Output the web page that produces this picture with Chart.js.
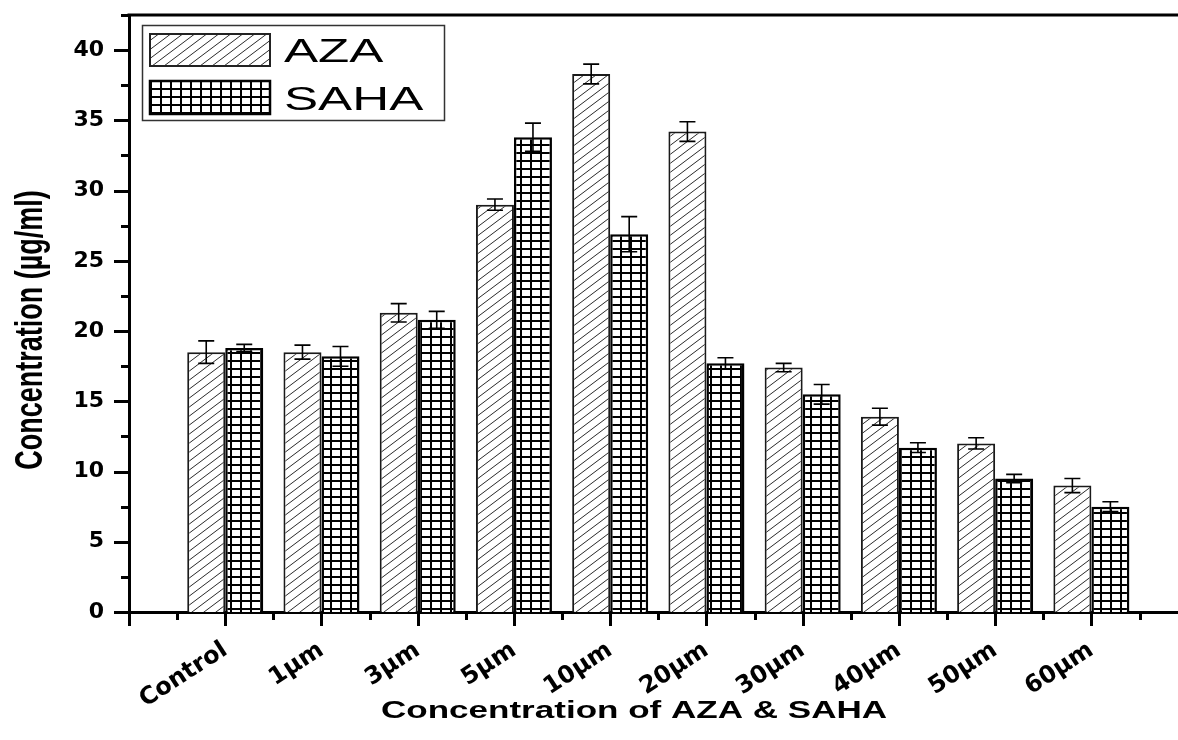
<!DOCTYPE html>
<html>
<head>
<meta charset="utf-8">
<script src="https://cdn.jsdelivr.net/npm/chart.js@4.4.0/dist/chart.umd.min.js"></script>
<style>
  html, body { margin: 0; padding: 0; background: #fff; }
  #wrap { width: 1178px; height: 740px; }
</style>
</head>
<body>
<div id="wrap"><canvas id="concChart"></canvas></div>
<script>
// values (µg/ml)
const categories = ['Control', '1µm', '3µm', '5µm', '10µm', '20µm', '30µm', '40µm', '50µm', '60µm'];
const azaValues  = [18.5, 18.5, 21.3, 29.0, 38.3, 34.2, 17.4, 13.9, 12.0, 9.0];
const azaErrors  = [0.8, 0.5, 0.65, 0.4, 0.7, 0.7, 0.3, 0.6, 0.4, 0.5];
const sahaValues = [18.8, 18.2, 20.8, 33.8, 26.9, 17.7, 15.5, 11.7, 9.5, 7.5];
const sahaErrors = [0.25, 0.7, 0.6, 1.0, 1.25, 0.4, 0.7, 0.35, 0.3, 0.35];
const yMajorStep = 5;
const yMinorStep = 2.5;

// diagonal hatch for AZA
function hatchPattern() {
    const c = document.createElement('canvas');
    const w = 12, h = 9;
    c.width = w; c.height = h;
    const g = c.getContext('2d');
    g.fillStyle = '#fff';
    g.fillRect(0, 0, w, h);
    g.strokeStyle = '#2a2a2a';
    g.lineWidth = 1;
    g.beginPath();
    for (let k = -1; k <= 1; k++) {
        g.moveTo(0, h + k * h);
        g.lineTo(w, k * h);
    }
    g.stroke();
    return g.createPattern(c, 'repeat');
}

// square grid for SAHA
function gridPattern() {
    const c = document.createElement('canvas');
    const w = 10, h = 8;
    c.width = w; c.height = h;
    const g = c.getContext('2d');
    g.fillStyle = '#fff';
    g.fillRect(0, 0, w, h);
    g.fillStyle = '#000';
    g.fillRect(0, 0, 2, h);
    g.fillRect(0, 0, w, 2);
    return g.createPattern(c, 'repeat');
}

const azaFill = hatchPattern();
const sahaFill = gridPattern();

const errorBars = {
    id: 'errorBars',
    afterDatasetsDraw(chart) {
        const ctx = chart.ctx;
        const y = chart.scales.y;
        const errs = [azaErrors, sahaErrors];
        const vals = [azaValues, sahaValues];
        ctx.save();
        ctx.strokeStyle = '#000';
        ctx.lineWidth = 1.6;
        chart.data.datasets.forEach((ds, d) => {
            const meta = chart.getDatasetMeta(d);
            meta.data.forEach((bar, i) => {
                const top = y.getPixelForValue(vals[d][i] + errs[d][i]);
                const bot = y.getPixelForValue(vals[d][i] - errs[d][i]);
                ctx.beginPath();
                ctx.moveTo(bar.x, top); ctx.lineTo(bar.x, bot);
                ctx.moveTo(bar.x - 8, top); ctx.lineTo(bar.x + 8, top);
                ctx.moveTo(bar.x - 8, bot); ctx.lineTo(bar.x + 8, bot);
                ctx.stroke();
            });
        });
        ctx.restore();
    }
};

// tick marks, top frame, legend box and axis titles
const decorations = {
    id: 'decorations',
    afterDraw(chart) {
        const ctx = chart.ctx;
        const area = chart.chartArea;
        const xs = chart.scales.x, ys = chart.scales.y;
        ctx.save();
        ctx.strokeStyle = '#000';
        ctx.lineWidth = 3;
        ctx.beginPath();
        for (let v = 0; v <= ys.max + 0.01; v += yMinorStep) {
            const p = Math.round(ys.getPixelForValue(v)) + 0.5;
            const len = v % yMajorStep === 0 ? 15 : 8;
            ctx.moveTo(area.left - len, p); ctx.lineTo(area.left, p);
        }
        for (let v = xs.min; v <= xs.max; v += 0.5) {
            const p = Math.round(xs.getPixelForValue(v)) + 0.5;
            const len = Number.isInteger(v) ? 14 : 8;
            ctx.moveTo(p, area.bottom); ctx.lineTo(p, area.bottom + len);
        }
        ctx.moveTo(area.left - 1.5, area.top);
        ctx.lineTo(area.right, area.top);
        ctx.stroke();

        // legend
        ctx.lineWidth = 1.5;
        ctx.strokeStyle = '#333';
        ctx.strokeRect(142.5, 25.5, 302, 95);
        ctx.lineWidth = 2;
        ctx.strokeStyle = '#222';
        ctx.fillStyle = azaFill;
        ctx.fillRect(150, 34, 120, 32);
        ctx.strokeRect(150, 34, 120, 32);
        ctx.fillStyle = sahaFill;
        ctx.fillRect(150, 81, 120, 33);
        ctx.strokeStyle = '#000';
        ctx.lineWidth = 2.5;
        ctx.strokeRect(150, 81, 120, 33);
        ctx.fillStyle = '#000';
        ctx.font = '33px "Liberation Sans", Arial, sans-serif';
        ctx.textAlign = 'left';
        ctx.textBaseline = 'alphabetic';
        [['AZA', 62], ['SAHA', 110]].forEach(([t, by]) => {
            ctx.save();
            ctx.translate(284, by);
            ctx.scale(1.55, 1);
            ctx.fillText(t, 0, 0);
            ctx.restore();
        });

        // x title
        ctx.font = 'bold 24px "Liberation Sans", Arial, sans-serif';
        ctx.textAlign = 'center';
        ctx.save();
        ctx.translate(634, 718);
        ctx.scale(1.46, 1);
        ctx.fillText('Concentration of AZA & SAHA', 0, 0);
        ctx.restore();

        // y title
        ctx.font = 'bold 27px "Liberation Sans", Arial, sans-serif';
        ctx.textBaseline = 'middle';
        ctx.save();
        ctx.translate(31, 330);
        ctx.rotate(-Math.PI / 2);
        ctx.scale(1, 1.45);
        ctx.fillText('Concentration (µg/ml)', 0, 0);
        ctx.restore();
        ctx.restore();
    }
};

new Chart(document.getElementById('concChart'), {
    type: 'bar',
    data: {
        datasets: [{
            label: 'AZA',
            data: azaValues.map((v, i) => ({ x: i, y: v })),
            backgroundColor: azaFill,
            borderColor: '#1a1a1a',
            borderWidth: 2,
            categoryPercentage: 0.79,
            barPercentage: 1.0
        }, {
            label: 'SAHA',
            data: sahaValues.map((v, i) => ({ x: i, y: v })),
            backgroundColor: sahaFill,
            borderColor: '#000',
            borderWidth: 2.5,
            categoryPercentage: 0.79,
            barPercentage: 1.0
        }]
    },
    options: {
        responsive: true,
        maintainAspectRatio: false,
        animation: false,
        layout: { padding: { top: 15, right: 0, left: 0, bottom: 0 } },
        scales: {
            x: {
                type: 'linear',
                offset: false,
                min: -1,
                max: 9.9,
                grid: { display: false, drawTicks: false },
                border: { display: true, color: '#000', width: 3 },
                afterBuildTicks: s => { s.ticks = s.ticks.filter(t => Number.isInteger(t.value)); },
                afterFit: s => { s.height = 128; s.paddingLeft = 0; s.paddingRight = 0; },
                ticks: {
                    stepSize: 1,
                    autoSkip: false,
                    minRotation: 33,
                    maxRotation: 33,
                    padding: 24,
                    color: '#000',
                    font: { family: '"DejaVu Sans", sans-serif', weight: 'bold', size: 24 },
                    callback: v => (Number.isInteger(v) && v >= 0 && v < categories.length) ? categories[v] : ''
                }
            },
            y: {
                min: 0,
                max: 42.5,
                grid: { display: false, drawTicks: false },
                border: { display: true, color: '#000', width: 3 },
                afterFit: s => { s.width = 129; s.paddingTop = 0; s.paddingBottom = 0; },
                ticks: {
                    stepSize: yMinorStep,
                    autoSkip: false,
                    padding: 25,
                    color: '#000',
                    font: { family: '"DejaVu Sans", sans-serif', weight: 'bold', size: 22 },
                    callback: v => (v % yMajorStep === 0) ? String(v) : ''
                }
            }
        },
        plugins: {
            legend: { display: false },
            tooltip: { enabled: false }
        }
    },
    plugins: [errorBars, decorations]
});
</script>
</body>
</html>
